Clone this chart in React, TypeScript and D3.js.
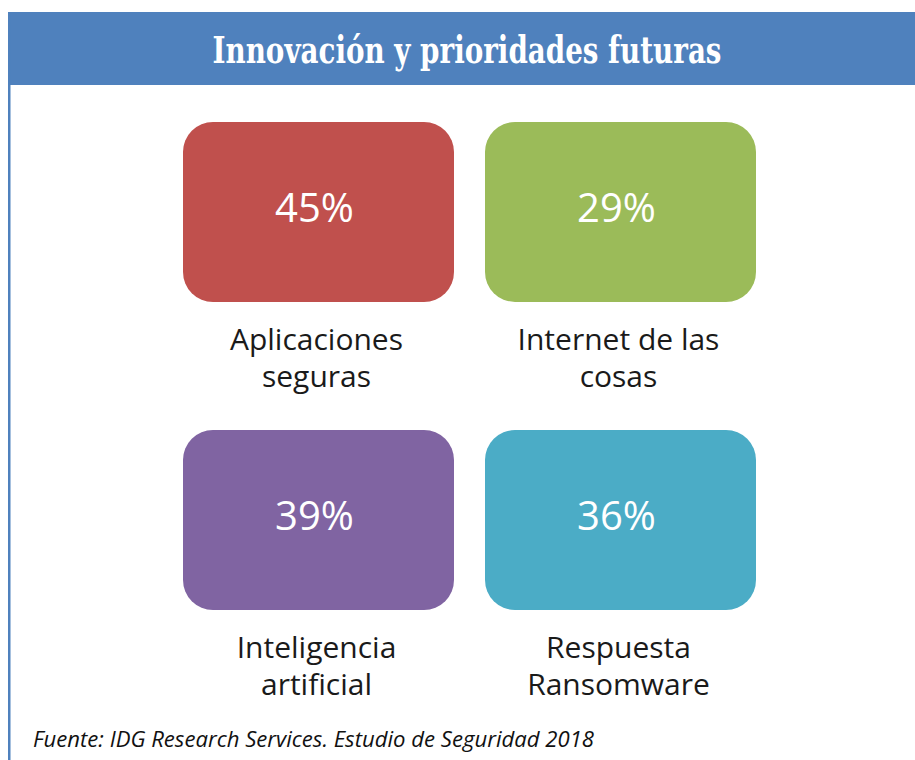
import React, { useEffect, useRef } from "react";
import * as d3 from "d3";

const title = "Innovación y prioridades futuras";
const source = "Fuente: IDG Research Services. Estudio de Seguridad 2018";
const labels = [
  ["Aplicaciones", "seguras"],
  ["Internet de las", "cosas"],
  ["Inteligencia", "artificial"],
  ["Respuesta", "Ransomware"],
];
const values = [45, 29, 39, 36];
const colors = ["#C0504D", "#9BBB59", "#8064A2", "#4BACC6"];

const W = 915;
const H = 760;

const App = () => {
  const svgRef = useRef<SVGSVGElement>(null);

  useEffect(() => {
    const svg = d3.select(svgRef.current);
    svg.selectAll("*").remove();

    // frame: header bar + left rule
    svg.append("rect").attr("x", 8).attr("y", 12).attr("width", W - 8).attr("height", 73).attr("fill", "#4F81BD");
    svg.append("rect").attr("x", 8).attr("y", 12).attr("width", 2.5).attr("height", H - 12).attr("fill", "#4F81BD");

    svg
      .append("text")
      .attr("x", 467)
      .attr("y", 63)
      .attr("text-anchor", "middle")
      .attr("font-family", "'DejaVu Serif Condensed', 'DejaVu Serif', serif")
      .attr("font-weight", "bold")
      .attr("font-size", 38)
      .attr("fill", "#fff")
      .attr("textLength", 509)
      .attr("lengthAdjust", "spacingAndGlyphs")
      .text(title);

    // 2x2 grid of tiles
    const col = d3.scaleBand<number>().domain([0, 1]).range([183, 756]).paddingInner(31 / 302);
    const row = d3.scaleBand<number>().domain([0, 1]).range([122, 610]).paddingInner(0.416);
    const data = values.map((v, i) => ({ v, i, label: labels[i], color: colors[i] }));

    const tile = svg
      .selectAll("g.tile")
      .data(data)
      .join("g")
      .attr("class", "tile")
      .attr("transform", (d) => `translate(${col(d.i % 2)},${row(Math.floor(d.i / 2))})`);

    tile
      .append("rect")
      .attr("width", col.bandwidth())
      .attr("height", row.bandwidth())
      .attr("rx", 30)
      .attr("fill", (d) => d.color);

    tile
      .append("text")
      .attr("x", col.bandwidth() / 2 - 4)
      .attr("y", 100)
      .attr("text-anchor", "middle")
      .attr("font-family", "'Open Sans', sans-serif")
      .attr("font-size", 40)
      .attr("fill", "#fff")
      .text((d) => `${d.v}%`);

    tile
      .selectAll("text.lbl")
      .data((d) => d.label)
      .join("text")
      .attr("class", "lbl")
      .attr("x", col.bandwidth() / 2 - 2)
      .attr("y", (_, j) => row.bandwidth() + 48 + j * 37)
      .attr("text-anchor", "middle")
      .attr("font-family", "'Open Sans', sans-serif")
      .attr("font-size", 30)
      .attr("fill", "#1a1a1a")
      .text((d) => d);

    svg
      .append("text")
      .attr("x", 33)
      .attr("y", 747)
      .attr("font-family", "'Open Sans', sans-serif")
      .attr("font-style", "italic")
      .attr("font-size", 22)
      .attr("fill", "#111")
      .attr("textLength", 561)
      .attr("lengthAdjust", "spacingAndGlyphs")
      .text(source);
  }, []);

  return (
    <svg
      ref={svgRef}
      width={W}
      height={H}
      style={{ position: "absolute", left: 0, top: 0, background: "#fff" }}
    ></svg>
  );
};

export default App;
